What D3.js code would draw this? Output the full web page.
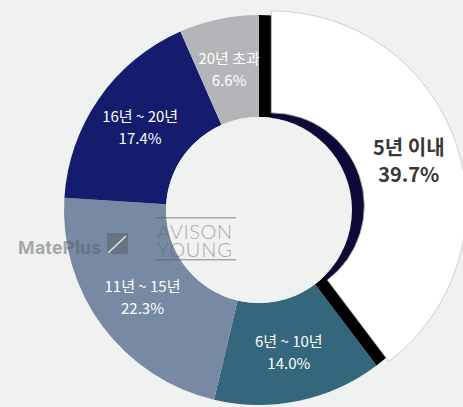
<!DOCTYPE html>
<html>
<head>
<meta charset="utf-8">
<script src="https://cdn.jsdelivr.net/npm/d3@7"></script>
<style>
  html, body { margin: 0; padding: 0; background: #f0f1f1; }
  svg { display: block; }
</style>
</head>
<body>
<div id="chart"></div>
<script>
// Building age distribution (share of buildings, %)
var categories = ["5년 이내", "6년 ~ 10년", "11년 ~ 15년", "16년 ~ 20년", "20년 초과"];
var shares = [39.7, 14.0, 22.3, 17.4, 6.6];
var sliceColours = ["#ffffff", "#34667c", "#7889a3", "#151c6d", "#b4b5b8"];
var labelColours = ["#383838", "#ffffff", "#ffffff", "#ffffff", "#ffffff"];

var width = 463, height = 407;
var cx = 259, cy = 210;
var rIn = 93, rOut = 195;
var explode = 13; // highlighted slice pulled out

var svg = d3.select('#chart').append('svg')
	.attr('width', width)
	.attr('height', height);

svg.append('rect')
	.attr('width', width)
	.attr('height', height)
	.attr('fill', '#f0f1f1');

var slices = d3.pie().sort(null).value(function(d) { return d; })(shares);
var arc = d3.arc().innerRadius(rIn).outerRadius(rOut);
var wedge = d3.arc().innerRadius(0).outerRadius(rIn);
var labelArc = d3.arc().innerRadius(145).outerRadius(145);

var g = svg.append('g').attr('transform', 'translate(' + cx + ',' + cy + ')');

// Regular slices
g.selectAll('path.slice')
	.data(slices.slice(1))
	.enter().append('path')
		.attr('class', 'slice')
		.attr('d', arc)
		.attr('fill', function(d) { return sliceColours[d.index]; });

// Highlighted slice: dark underlay, then shifted white slice
var hi = slices[0];
var mid = (hi.startAngle + hi.endAngle) / 2;
var dx = Math.sin(mid) * explode, dy = -Math.cos(mid) * explode;

g.append('path').attr('d', arc(hi)).attr('fill', '#000000');
g.append('path')
	.attr('d', wedge(hi))
	.attr('transform', 'translate(' + dx + ',' + dy + ')')
	.attr('fill', '#0c0a36');

// Hole
g.append('circle').attr('r', rIn).attr('fill', '#f0f1f1');

g.append('path')
	.attr('d', arc(hi))
	.attr('transform', 'translate(' + dx + ',' + dy + ')')
	.attr('fill', sliceColours[0])
	.attr('stroke', '#c4c4c4')
	.attr('stroke-width', 0.8);

// Watermarks
var wm = svg.append('g').attr('fill', '#5a5f66').attr('opacity', 0.5);
wm.append('text')
	.attr('x', 18).attr('y', 254)
	.attr('font-family', 'Roboto, sans-serif')
	.attr('font-weight', 'bold')
	.attr('font-size', 19)
	.attr('textLength', 83)
	.text('MatePlus');
wm.append('rect').attr('x', 107).attr('y', 233).attr('width', 21).attr('height', 21);
svg.append('line')
	.attr('x1', 108).attr('y1', 253).attr('x2', 126).attr('y2', 236)
	.attr('stroke', '#dfe2e6').attr('stroke-width', 1.6);

wm.append('rect').attr('x', 155).attr('y', 217).attr('width', 81).attr('height', 1.5);
wm.append('rect').attr('x', 155).attr('y', 259).attr('width', 81).attr('height', 1.5);
wm.append('text')
	.attr('x', 157).attr('y', 239)
	.attr('font-family', 'Lato, sans-serif')
	.attr('font-weight', 300)
	.attr('font-size', 20)
	.attr('textLength', 75)
	.text('AVISON');
wm.append('text')
	.attr('x', 157).attr('y', 257)
	.attr('font-family', 'Lato, sans-serif')
	.attr('font-weight', 300)
	.attr('font-size', 20)
	.attr('textLength', 75)
	.text('YOUNG');

// Labels
var labels = g.selectAll('g.label')
	.data(slices)
	.enter().append('g')
		.attr('class', 'label')
		.attr('transform', function(d) {
			var c = labelArc.centroid(d);
			if (d.index === 0) { c[0] += dx; c[1] += dy; }
			return 'translate(' + c[0] + ',' + c[1] + ')';
		})
		.attr('fill', function(d) { return labelColours[d.index]; })
		.attr('font-family', '"Noto Sans CJK KR", "Noto Sans", sans-serif')
		.attr('text-anchor', 'middle');

labels.append('text')
	.attr('y', function(d) { return d.index === 0 ? -13 : -11; })
	.attr('dominant-baseline', 'central')
	.attr('font-size', function(d) { return d.index === 0 ? 20 : 15; })
	.attr('font-weight', function(d) { return d.index === 0 ? 'bold' : 'normal'; })
	.text(function(d) { return categories[d.index]; });

labels.append('text')
	.attr('y', function(d) { return d.index === 0 ? 14 : 11; })
	.attr('dominant-baseline', 'central')
	.attr('font-size', function(d) { return d.index === 0 ? 20 : 15; })
	.attr('font-weight', function(d) { return d.index === 0 ? 'bold' : 'normal'; })
	.text(function(d) { return d.value.toFixed(1) + '%'; });
</script>
</body>
</html>
